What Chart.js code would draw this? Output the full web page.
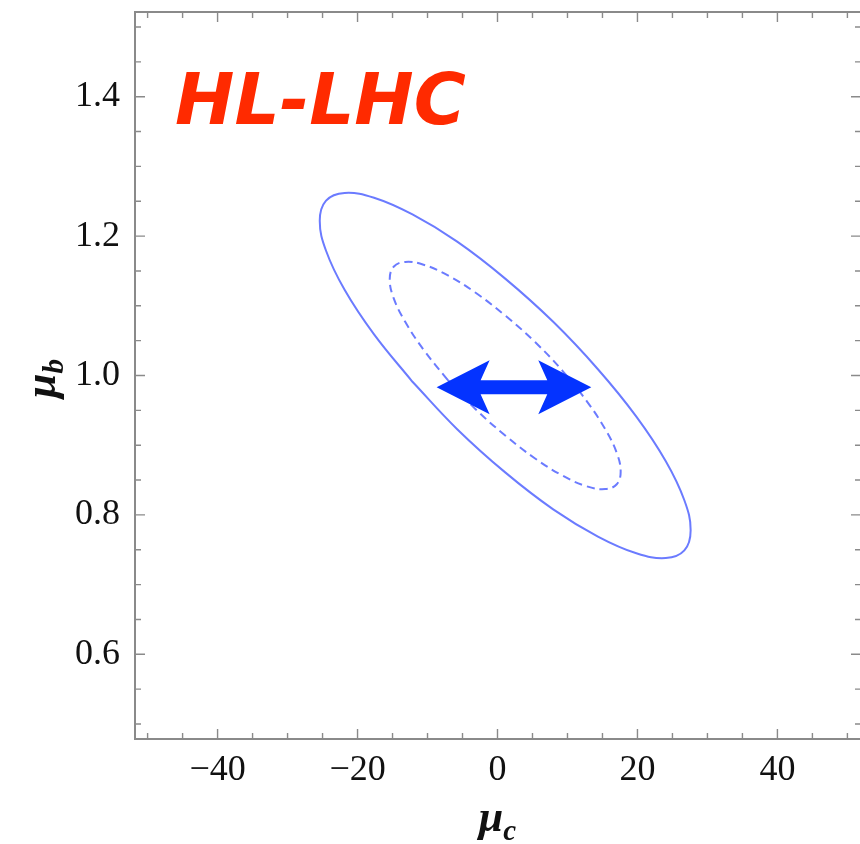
<!DOCTYPE html>
<html>
<head>
<meta charset="utf-8">
<script src="https://cdn.jsdelivr.net/npm/chart.js@4.4.1/dist/chart.umd.min.js"></script>
<style>
  html, body { margin: 0; padding: 0; background: #ffffff; }
  #wrap { width: 860px; height: 844px; }
</style>
</head>
<body>
<div id="wrap"><canvas id="c" width="860" height="844"></canvas></div>
<script>
// ---- data ----
const xTickValues = [-40, -20, 0, 20, 40];
const xTickLabels = ['\u221240', '\u221220', '0', '20', '40'];
const yTickValues = [0.6, 0.8, 1.0, 1.2, 1.4];
const yTickLabels = ['0.6', '0.8', '1.0', '1.2', '1.4'];

// outer (solid) contour
const outerMuC = [-12.15, -17.64, -21.85, -24.5, -25.4, -24.5, -21.85, -17.64, -12.15, -5.76, 1.1, 7.96, 14.35, 19.84, 24.05, 26.7, 27.6, 26.7, 24.05, 19.84, 14.35, 7.96, 1.1, -5.76, -12.15];
const outerMuB = [0.991, 1.059, 1.123, 1.179, 1.222, 1.251, 1.262, 1.255, 1.231, 1.192, 1.139, 1.077, 1.009, 0.941, 0.877, 0.821, 0.778, 0.749, 0.738, 0.745, 0.769, 0.808, 0.861, 0.923, 0.991];

// inner (dashed) contour
const innerMuC = [-7.15, -10.57, -13.19, -14.84, -15.4, -14.84, -13.19, -10.57, -7.15, -3.17, 1.1, 5.37, 9.35, 12.77, 15.39, 17.04, 17.6, 17.04, 15.39, 12.77, 9.35, 5.37, 1.1, -3.17, -7.15];
const innerMuB = [0.994, 1.037, 1.077, 1.111, 1.138, 1.156, 1.163, 1.159, 1.144, 1.119, 1.086, 1.048, 1.006, 0.963, 0.923, 0.889, 0.862, 0.844, 0.837, 0.841, 0.856, 0.881, 0.914, 0.952, 0.994];

// double arrow (mu_c span at fixed mu_b)
const arrowMuC = [-8.7, 13.4];
const arrowMuB = [0.983];

const titleText = 'HL-LHC';

// ---- build ----
const toPts = (xs, ys) => xs.map((x, i) => ({ x: x, y: ys[i] }));

const ELL_COLOR = '#6b7bff';
const FRAME_COLOR = '#8a8a8a';

const framePlugin = {
  id: 'frame',
  afterDatasetsDraw(chart) {
    const ctx = chart.ctx;
    const xs = chart.scales.x, ys = chart.scales.y;
    // double arrow
    const L = xs.getPixelForValue(arrowMuC[0]);
    const R = xs.getPixelForValue(arrowMuC[1]);
    const c = ys.getPixelForValue(arrowMuB[0]);
    const hl = 53, hw = 27, nb = 44, sw = 7;
    ctx.save();
    ctx.fillStyle = '#0433ff';
    ctx.beginPath();
    ctx.moveTo(L, c);
    ctx.lineTo(L + hl, c - hw);
    ctx.lineTo(L + nb, c - sw);
    ctx.lineTo(R - nb, c - sw);
    ctx.lineTo(R - hl, c - hw);
    ctx.lineTo(R, c);
    ctx.lineTo(R - hl, c + hw);
    ctx.lineTo(R - nb, c + sw);
    ctx.lineTo(L + nb, c + sw);
    ctx.lineTo(L + hl, c + hw);
    ctx.closePath();
    ctx.fill();
    ctx.restore();
  },
  afterDraw(chart) {
    const ctx = chart.ctx;
    const a = chart.chartArea;
    const xs = chart.scales.x, ys = chart.scales.y;
    ctx.save();
    // ticks (inward, on all four sides)
    ctx.strokeStyle = FRAME_COLOR;
    ctx.lineWidth = 1.4;
    ctx.beginPath();
    for (let v = -50; v <= 50; v += 5) {
      const p = xs.getPixelForValue(v);
      const len = xTickValues.includes(v) ? 10 : 6;
      ctx.moveTo(p, a.bottom); ctx.lineTo(p, a.bottom - len);
      ctx.moveTo(p, a.top); ctx.lineTo(p, a.top + len);
    }
    for (let k = 10; k <= 30; k++) {
      const v = k * 0.05;
      const p = ys.getPixelForValue(v);
      const major = yTickValues.some(t => Math.abs(t - v) < 1e-6);
      const len = major ? 10 : 6;
      ctx.moveTo(a.left, p); ctx.lineTo(a.left + len, p);
      ctx.moveTo(a.right + 1, p); ctx.lineTo(a.right + 1 - len, p);
    }
    ctx.stroke();
    // frame (right side falls just outside the picture)
    ctx.lineWidth = 2;
    ctx.beginPath();
    ctx.moveTo(a.right + 2, a.top);
    ctx.lineTo(a.left, a.top);
    ctx.lineTo(a.left, a.bottom);
    ctx.lineTo(a.right + 2, a.bottom);
    ctx.stroke();

    // title text
    ctx.fillStyle = '#ff2a00';
    ctx.font = 'italic bold 71px "DejaVu Sans"';
    ctx.textAlign = 'left';
    ctx.textBaseline = 'alphabetic';
    ctx.fillText(titleText, 175, 124);

    // axis titles
    ctx.fillStyle = '#111111';
    // x: mu_c
    ctx.font = 'italic bold 44px "Liberation Serif"';
    const wMu = ctx.measureText('\u03bc').width;
    ctx.font = 'italic bold 29px "Liberation Serif"';
    const wC = ctx.measureText('c').width;
    const cx = xs.getPixelForValue(0);
    let x0 = cx - (wMu + wC) / 2;
    ctx.font = 'italic bold 44px "Liberation Serif"';
    ctx.fillText('\u03bc', x0, 831);
    ctx.font = 'italic bold 29px "Liberation Serif"';
    ctx.fillText('c', x0 + wMu, 840);
    // y: mu_b rotated
    ctx.translate(55, ys.getPixelForValue(1.0) + 3);
    ctx.rotate(-Math.PI / 2);
    ctx.font = 'italic bold 29px "Liberation Serif"';
    const wB = ctx.measureText('b').width;
    x0 = -(wMu + wB) / 2;
    ctx.font = 'italic bold 44px "Liberation Serif"';
    ctx.fillText('\u03bc', x0, 0);
    ctx.font = 'italic bold 29px "Liberation Serif"';
    ctx.fillText('b', x0 + wMu, 8);
    ctx.restore();
  }
};

const tickFont = { family: '"Liberation Serif"', size: 36 };

new Chart(document.getElementById('c'), {
  type: 'scatter',
  data: {
    datasets: [
      {
        data: toPts(outerMuC, outerMuB),
        showLine: true,
        borderColor: ELL_COLOR,
        borderWidth: 2,
        pointRadius: 0,
        tension: 0.4,
        fill: false
      },
      {
        data: toPts(innerMuC, innerMuB),
        showLine: true,
        borderColor: ELL_COLOR,
        borderWidth: 2,
        borderDash: [8, 5],
        pointRadius: 0,
        tension: 0.4,
        fill: false
      }
    ]
  },
  options: {
    responsive: false,
    animation: false,
    devicePixelRatio: 1,
    layout: { padding: { top: 12, left: 0, right: 0, bottom: 0 } },
    plugins: { legend: { display: false }, tooltip: { enabled: false }, title: { display: false } },
    scales: {
      x: {
        type: 'linear',
        min: -51.8,
        max: 51.8,
        grid: { display: false },
        border: { display: false },
        afterBuildTicks(s) { s.ticks = xTickValues.map(v => ({ value: v })); },
        afterFit(s) { s.height = 105; s.paddingLeft = 0; s.paddingRight = 0; },
        ticks: {
          font: tickFont,
          color: '#111111',
          padding: 2,
          maxRotation: 0,
          autoSkip: false,
          callback: (v, i) => xTickLabels[i]
        }
      },
      y: {
        type: 'linear',
        min: 0.4785,
        max: 1.5215,
        grid: { display: false },
        border: { display: false },
        afterBuildTicks(s) { s.ticks = yTickValues.map(v => ({ value: v })); },
        afterFit(s) { s.width = 135; s.paddingTop = 0; s.paddingBottom = 0; },
        ticks: {
          font: tickFont,
          color: '#111111',
          padding: 7,
          autoSkip: false,
          callback: (v, i) => yTickLabels[i]
        }
      }
    }
  },
  plugins: [framePlugin]
});
</script>
</body>
</html>
